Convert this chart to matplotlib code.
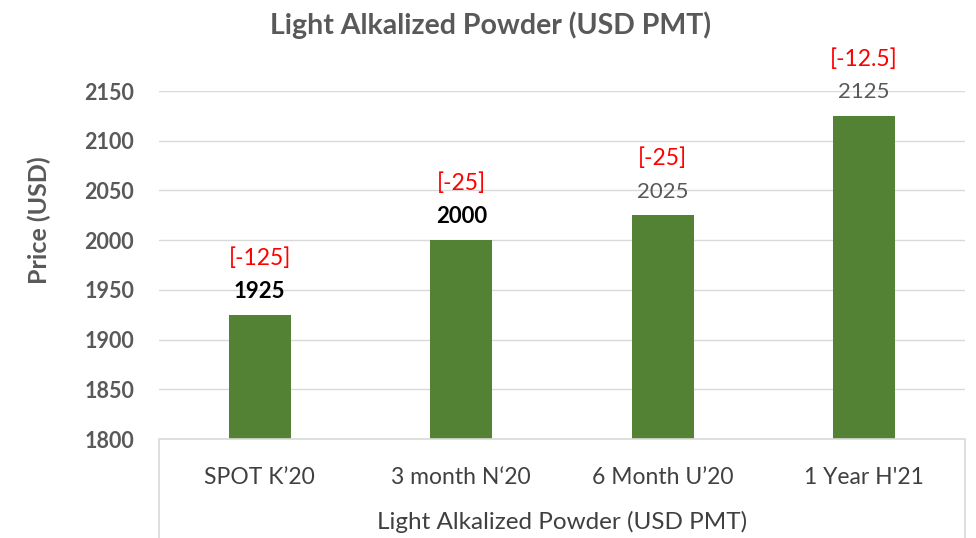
import matplotlib
matplotlib.use("Agg")
import matplotlib.pyplot as plt
from matplotlib.patches import Rectangle

categories = ["SPOT K\u201920", "3 month N\u201820", "6 Month U\u201920", "1 Year H'21"]
prices = [1925, 2000, 2025, 2125]
changes = ["[-125]", "[-25]", "[-25]", "[-12.5]"]
value_colors = ["black", "black", "#595959", "#595959"]
value_weights = ["bold", "bold", "normal", "normal"]
yticks = [1800, 1850, 1900, 1950, 2000, 2050, 2100, 2150]

plt.rcParams['font.family'] = ['Lato', 'DejaVu Sans']
W, H = 976, 538
fig = plt.figure(figsize=(W / 100, H / 100), dpi=100)
left, right, top, bottom = 159, 965, 91, 439
ax = fig.add_axes([left / W, 1 - bottom / H, (right - left) / W, (bottom - top) / H])

x = range(len(categories))
ax.bar(x, [p - 1800 for p in prices], bottom=1800, width=0.31, color="#548235", zorder=3)
ax.set_xlim(-0.5, len(categories) - 0.5)
ax.set_ylim(1800, 2150)
ax.set_yticks(yticks)
ax.set_yticklabels([str(t) for t in yticks], fontsize=15.5, fontweight="bold", color="#595959")
ax.tick_params(axis="y", length=0, pad=18)
ax.set_xticks(list(x))
ax.set_xticklabels(categories, fontsize=16.5, color="#404040")
ax.tick_params(axis="x", length=0, pad=20)
ax.grid(axis="y", color="#d9d9d9", linewidth=1, zorder=0)
for s in ax.spines.values():
    s.set_visible(False)

for i, (p, c) in enumerate(zip(prices, changes)):
    ax.annotate(str(p), (i, p), xytext=(0, 17), textcoords="offset points",
                ha="center", va="center", fontsize=16, color=value_colors[i],
                fontweight=value_weights[i])
    ax.annotate(c, (i, p), xytext=(0, 41), textcoords="offset points",
                ha="center", va="center", fontsize=16.5, color="#ff0000")

# category axis box
fig.add_artist(Rectangle((left / W, -0.01), (right - left) / W, (H - bottom) / H + 0.01,
                         transform=fig.transFigure, fill=False, edgecolor="#d9d9d9",
                         linewidth=1.2))

fig.text(562 / W, 1 - 522 / H, "Light Alkalized Powder (USD PMT)", ha="center", va="center",
         fontsize=17.5, color="#404040")
fig.text(490 / W, 1 - 25 / H, "Light Alkalized Powder (USD PMT)", ha="center", va="center",
         fontsize=20.5, fontweight="bold", color="#595959")
fig.text(39 / W, 1 - 220 / H, "Price (USD)", ha="center", va="center", rotation=90,
         fontsize=18, fontweight="bold", color="#595959")

fig.savefig("out.png", dpi=100)
